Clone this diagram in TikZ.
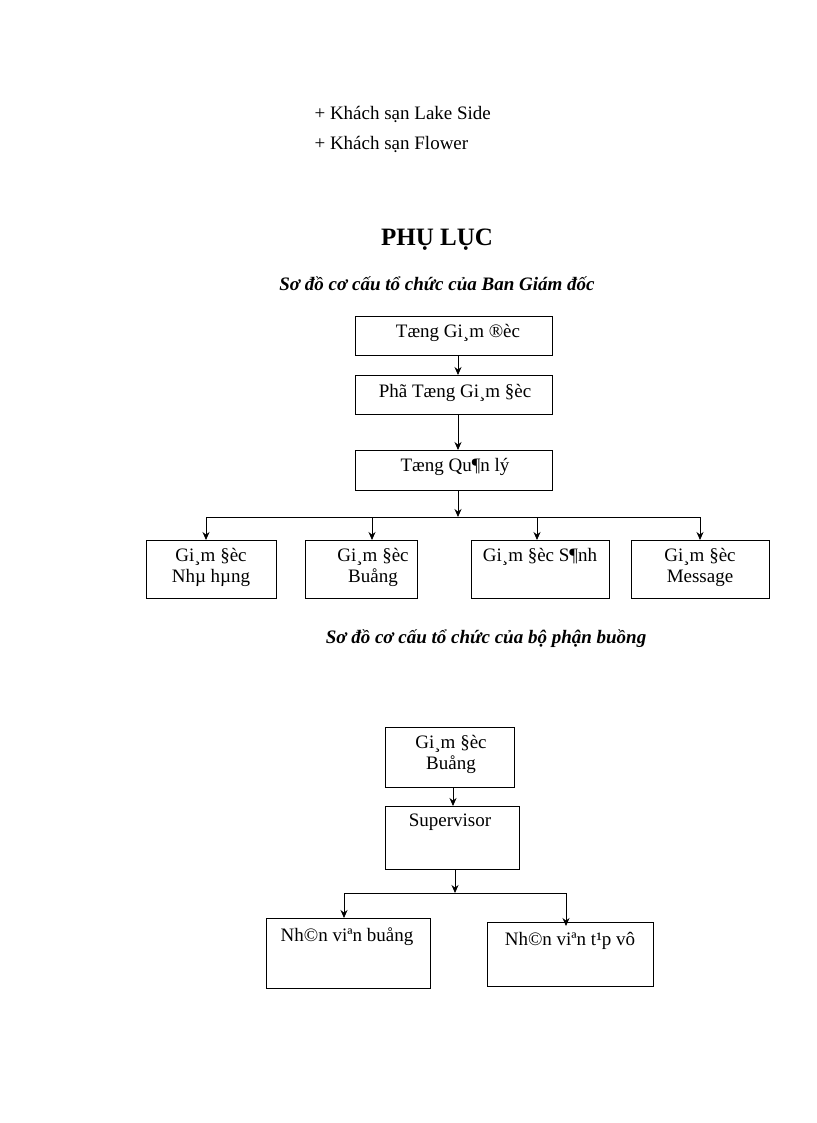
\documentclass[tikz,border=0pt]{standalone}
\usepackage{fontspec}
\usetikzlibrary{arrows.meta}
\setmainfont{Liberation Serif}
\begin{document}
\begin{tikzpicture}[x=1pt,y=-1pt,
 bx/.style={draw,thick,inner sep=0pt,anchor=north west},
 lb/.style={font=\fontsize{19}{21}\selectfont,align=center},
 arr/.style={-{Stealth[length=8pt,width=7pt]},thick},
 txt/.style={font=\fontsize{19}{22}\selectfont,anchor=west}]
\useasboundingbox (0,0) rectangle (816,1123);
\node[txt] (l1) at (311,114) {+ Khách sạn Lake Side};
\node[txt] (l2) at (311,144) {+ Khách sạn Flower};
\node[font=\fontsize{25}{28}\selectfont\bfseries] (title) at (437,240) {PHỤ LỤC};
\node[font=\fontsize{19}{22}\selectfont\bfseries\itshape] (s1) at (437,284) {Sơ đồ cơ cấu tổ chức của Ban Giám đốc};
\node[font=\fontsize{19}{22}\selectfont\bfseries\itshape] (s2) at (486,639) {Sơ đồ cơ cấu tổ chức của bộ phận buồng};
% diagram 1
\node[bx,minimum width=197,minimum height=39] (a) at (355,316) {};
\node[lb] (ta) at (458,333) {Tæng Gi¸m ®èc};
\node[bx,minimum width=197,minimum height=39] (b) at (355,375) {};
\node[lb] (tb) at (455,393) {Phã Tæng Gi¸m §èc};
\node[bx,minimum width=197,minimum height=40] (c) at (355,450) {};
\node[lb] (tc) at (455,467) {Tæng Qu¶n lý};
\node[bx,minimum width=130,minimum height=58] (d1) at (146,540) {};
\node[bx,minimum width=112,minimum height=58] (d2) at (305,540) {};
\node[bx,minimum width=138,minimum height=58] (d3) at (471,540) {};
\node[bx,minimum width=138,minimum height=58] (d4) at (631,540) {};
\node[lb,anchor=north] (t1) at (211,545) {Gi¸m §èc\\Nhµ hµng};
\node[lb,anchor=north] (t2) at (373,545) {Gi¸m §èc\\Buång};
\node[lb,anchor=north] (t3) at (540,545) {Gi¸m §èc S¶nh};
\node[lb,anchor=north] (t4) at (700,545) {Gi¸m §èc\\Message};
\coordinate (j1) at (458,517);
\coordinate (h1) at (206,517);
\coordinate (h2) at (372,517);
\coordinate (h3) at (537,517);
\coordinate (h4) at (700,517);
\draw[arr] (a.south -| j1) -- (b.north -| j1);
\draw[arr] (b.south -| j1) -- (c.north -| j1);
\draw[arr] (c.south -| j1) -- (j1);
\draw[thick] (h1) -- (h4);
\draw[arr] (h1) -- (d1.north -| h1);
\draw[arr] (h2) -- (d2.north -| h2);
\draw[arr] (h3) -- (d3.north -| h3);
\draw[arr] (h4) -- (d4.north -| h4);
% diagram 2
\node[bx,minimum width=129,minimum height=60] (e) at (385,727) {};
\node[lb,anchor=north] (te) at (451,732) {Gi¸m §èc\\Buång};
\node[bx,minimum width=134,minimum height=63] (f) at (385,806) {};
\node[lb] (tf) at (450,822) {Supervisor};
\node[bx,minimum width=164,minimum height=70] (g1) at (266,918) {};
\node[bx,minimum width=166,minimum height=64] (g2) at (487,922) {};
\node[lb] (tg1) at (347,937) {Nh©n viªn buång};
\node[lb] (tg2) at (570,941) {Nh©n viªn t¹p vô};
\coordinate (k0) at (453,800);
\coordinate (j2) at (455,893);
\coordinate (k1) at (344,893);
\coordinate (k2) at (566,893);
\draw[arr] (e.south -| k0) -- (f.north -| k0);
\draw[arr] (f.south -| j2) -- (j2);
\draw[thick] (k1) -- (k2);
\draw[arr] (k1) -- (g1.north -| k1);
\draw[arr] (k2) -- ([yshift=-4pt]g2.north -| k2);
\end{tikzpicture}
\end{document}
